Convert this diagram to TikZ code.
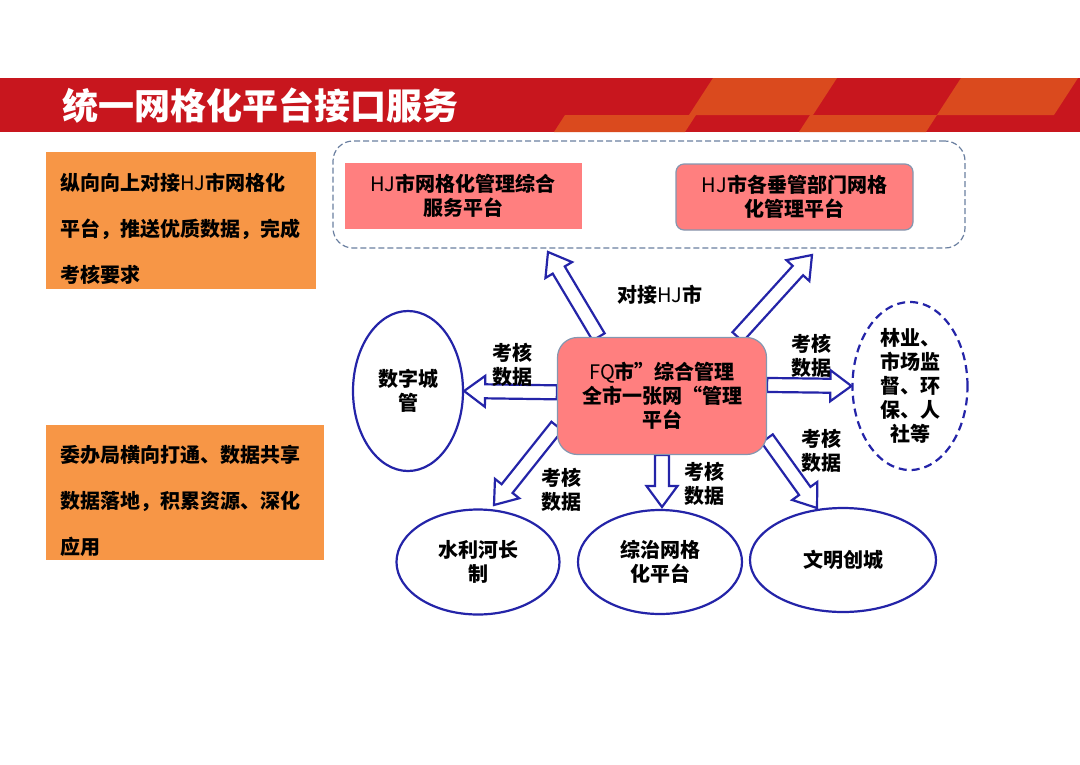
\documentclass[tikz,border=0pt]{standalone}
\usepackage{fontspec}
\setmainfont{Noto Sans CJK SC}
\usepackage{tikz}
\usetikzlibrary{positioning, calc, shapes.geometric, backgrounds}
\definecolor{bannerred}{HTML}{C8161E}
\definecolor{bannerorange}{HTML}{DA4A1E}
\definecolor{notebox}{HTML}{F79646}
\definecolor{pinkfill}{HTML}{FF7F7F}
\definecolor{greyblue}{HTML}{8497B0}
\definecolor{dashblue}{HTML}{6A7FA0}
\definecolor{arrowblue}{HTML}{2424A8}

% hollow block arrow between two named points
\newcommand{\fatarrow}[2]{%
  \draw[fat] let \p1=(#1), \p2=(#2), \p3=($(\p2)!21pt!(\p1)$) in
    ($(\p1)!7pt!90:(\p2)$) -- ($(\p3)!7pt!90:(\p2)$) -- ($(\p3)!15.5pt!90:(\p2)$) -- (\p2)
    -- ($(\p3)!15.5pt!-90:(\p2)$) -- ($(\p3)!7pt!-90:(\p2)$) -- ($(\p1)!7pt!-90:(\p2)$) -- cycle;}

\begin{document}
\begin{tikzpicture}[x=1pt, y=-1pt,
    title/.style={text=white, anchor=west, inner sep=0pt, font=\fontsize{36}{40}\selectfont\bfseries},
    note/.style={fill=notebox, align=left, anchor=north west, inner xsep=14pt, font=\fontsize{20}{46}\selectfont\bfseries},
    group/.style={draw=dashblue, dash pattern=on 6pt off 3pt, line width=1.2pt, rounded corners=20pt, minimum width=632pt, minimum height=107pt},
    platform/.style={fill=pinkfill, draw=greyblue, line width=1.2pt, align=center, minimum width=237pt, minimum height=66pt, font=\fontsize{20}{24}\selectfont\bfseries},
    hub/.style={fill=pinkfill, draw=greyblue, line width=1.2pt, rounded corners=20pt, align=center, minimum width=209pt, minimum height=117pt, font=\fontsize{20}{24}\selectfont\bfseries},
    target/.style={ellipse, draw=arrowblue, line width=2.2pt, fill=white, align=center, inner sep=0pt, font=\fontsize{20}{24}\selectfont\bfseries},
    tag/.style={align=center, inner sep=1pt, font=\fontsize{20}{24}\selectfont\bfseries},
    fat/.style={draw=arrowblue, fill=white, line width=2.2pt}]
\useasboundingbox (0,0) rectangle (1080,764);

% Banner
\fill[bannerred] (0,78) rectangle (1080,132);
\fill[bannerorange] (554,132) -- (565,115) -- (696,115) -- (685,132) -- cycle;
\fill[bannerorange] (689,115) -- (713,78) -- (837,78) -- (813,115) -- cycle;
\fill[bannerorange] (799,132) -- (810,115) -- (937,115) -- (926,132) -- cycle;
\fill[bannerorange] (937,115) -- (961,78) -- (1078,78) -- (1054,115) -- cycle;
\node[title] (head) at (62,106) {统一网格化平台接口服务};

% Notes on the left
\node[note, text width=242pt, minimum height=137pt] (noteup) at (46,152) {\rule{0pt}{33pt}纵向向上对接\textmd{HJ}市网格化\\平台，推送优质数据，完成\\考核要求};
\node[note, text width=250pt, minimum height=135pt] (noteside) at (46,425) {\rule{0pt}{33pt}委办局横向打通、数据共享\\数据落地，积累资源、深化\\应用};

% HJ platforms
\node[group] (hjgroup) at (649,194.5) {};
\node[platform, draw=none] (hjzh) at (463,196) {\textmd{HJ}市网格化管理综合\\服务平台};
\node[platform, rounded corners=8pt] (hjcg) at (794.5,197) {\textmd{HJ}市各垂管部门网格\\化管理平台};

% FQ platform and receivers
\node[hub] (fq) at (662,396) {\textmd{FQ}市”综合管理\\全市一张网“管理\\平台};
\node[target, minimum width=110pt, minimum height=160pt] (szcg) at (408,391) {数字城\\管};
\node[target, dashed, dash pattern=on 8pt off 5pt, minimum width=115pt, minimum height=168pt] (lsy) at (910,386) {林业、\\市场监\\督、环\\保、人\\社等};
\node[target, minimum width=163pt, minimum height=105pt] (slhz) at (478,562) {水利河长\\制};
\node[target, minimum width=164pt, minimum height=104pt] (zzwg) at (660,562) {综治网格\\化平台};
\node[target, minimum width=186pt, minimum height=104pt] (wmcc) at (843,560) {文明创城};

% Labels
\node[tag] (tagup) at (660,295) {对接\textmd{HJ}市};
\node[tag] (tagw) at (512,365) {考核\\数据};
\node[tag] (tage) at (811,356) {考核\\数据};
\node[tag] (tagsw) at (561,490) {考核\\数据};
\node[tag] (tags) at (704,484) {考核\\数据};
\node[tag] (tagse) at (821,451) {考核\\数据};

% Arrow tips
\coordinate (upL) at (548,252);
\coordinate (upR) at (812,255);
\coordinate (dnL) at (494,505);
\coordinate (dnC) at (662,507);
\coordinate (dnR) at (817,508);

\begin{pgfonlayer}{background}
\fatarrow{fq.137}{upL}
\fatarrow{fq.38}{upR}
\fatarrow{fq.178}{szcg.east}
\fatarrow{fq.6}{lsy.west}
\fatarrow{fq.196}{dnL}
\fatarrow{fq.south}{dnC}
\fatarrow{fq.-22}{dnR}
\end{pgfonlayer}
\end{tikzpicture}
\end{document}
